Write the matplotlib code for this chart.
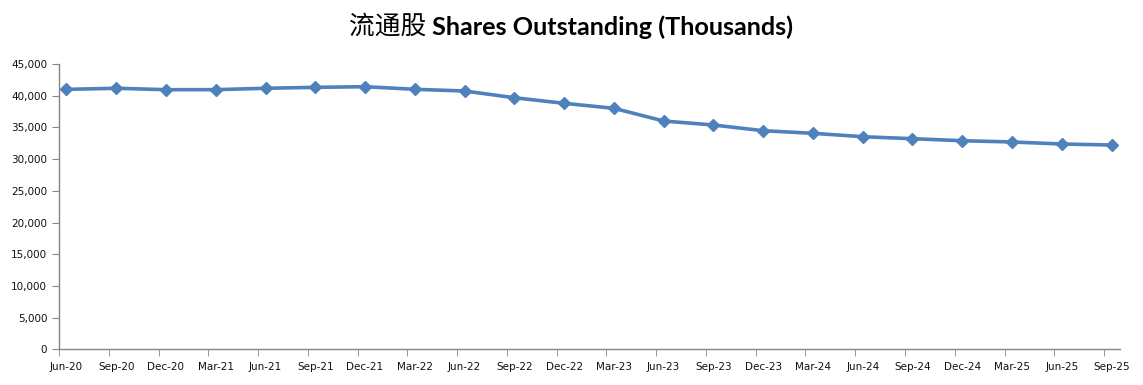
import matplotlib.pyplot as plt
from matplotlib.ticker import FuncFormatter, FixedLocator

# Trimestres y acciones en circulación (miles)
quarters = ['Jun-20', 'Sep-20', 'Dec-20', 'Mar-21', 'Jun-21', 'Sep-21', 'Dec-21', 'Mar-22',
            'Jun-22', 'Sep-22', 'Dec-22', 'Mar-23', 'Jun-23', 'Sep-23', 'Dec-23', 'Mar-24',
            'Jun-24', 'Sep-24', 'Dec-24', 'Mar-25', 'Jun-25', 'Sep-25']
shares = [41000, 41170, 40950, 40950, 41170, 41320, 41420, 41010,
          40740, 39680, 38800, 38010, 36010, 35380, 34480, 34070,
          33530, 33220, 32900, 32700, 32380, 32220]
y_ticks = [0, 5000, 10000, 15000, 20000, 25000, 30000, 35000, 40000, 45000]

x = list(range(len(quarters)))

fig = plt.figure(figsize=(11.43, 3.85), dpi=100)
ax = fig.add_axes([59 / 1143, 35.7 / 385, (1120 - 59) / 1143, (349.3 - 64) / 385])

ax.plot(x, shares, color='#4F81BD', linewidth=2.6, marker='D', markersize=6.5,
        markeredgecolor='#4F81BD', markerfacecolor='#4F81BD')

ax.set_ylim(0, 45000)
ax.set_xlim(-0.15, 21.17)
ax.set_yticks(y_ticks)
ax.yaxis.set_major_formatter(FuncFormatter(lambda v, p: f'{int(v):,}'))

# etiquetas en los puntos, marcas de tick un poco a la izquierda
ax.set_xticks(x)
ax.set_xticklabels(quarters)
ax.tick_params(axis='x', which='major', length=0, pad=9)
ax.xaxis.set_minor_locator(FixedLocator([i - 0.15 for i in x]))
ax.tick_params(axis='x', which='minor', length=5, color='#868686', direction='out')
ax.tick_params(axis='y', length=5, color='#868686', direction='out')
ax.tick_params(labelsize=7.5, labelcolor='#111111')

for s in ['top', 'right']:
    ax.spines[s].set_visible(False)
for s in ['left', 'bottom']:
    ax.spines[s].set_color('#868686')
    ax.spines[s].set_linewidth(1)

fig.text(426 / 1143, 1 - 27 / 385, '流通股', ha='right', va='center',
         fontsize=18.5, family=['Noto Sans CJK SC', 'DejaVu Sans'])
fig.text(432 / 1143, 1 - 27 / 385, 'Shares Outstanding (Thousands)', ha='left', va='center',
         fontsize=18.2, fontweight='bold', family=['Lato', 'DejaVu Sans'])

fig.savefig('out.png', dpi=100)
